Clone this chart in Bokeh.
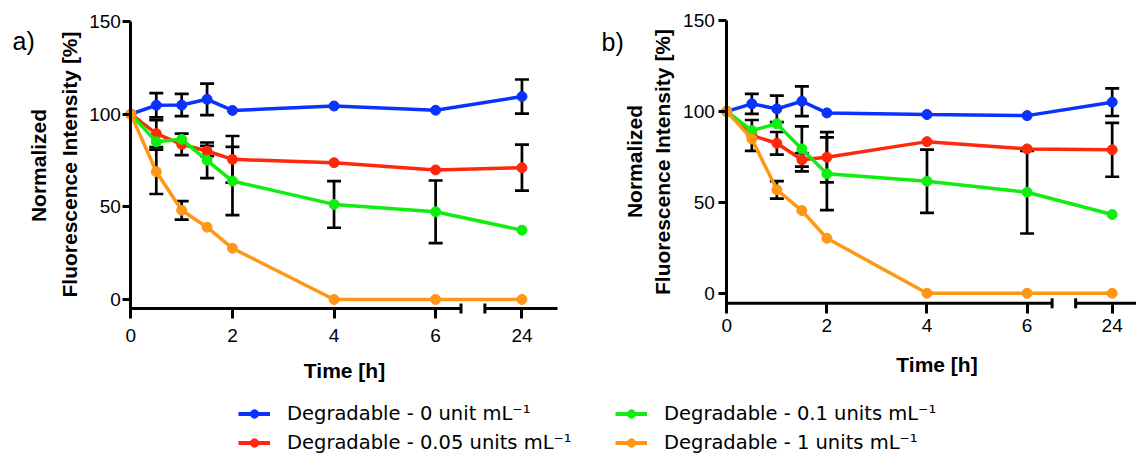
import math
from bokeh.plotting import figure
from bokeh.models import (Range1d, FixedTicker, ColumnDataSource, Whisker, TeeHead,
                          Label, Legend, LegendItem)
from bokeh.layouts import row, column
from bokeh.embed import file_html
from bokeh.resources import INLINE

# ---------------- data ----------------
time_h = [0, 0.5, 1, 1.5, 2, 4, 6, 24]
x_tick_times = [0, 2, 4, 6, 24]
x_tick_labels = ["0", "2", "4", "6", "24"]
y_ticks = [0, 50, 100, 150]
x_title = "Time [h]"
y_title_lines = ["Normalized", "Fluorescence Intensity [%]"]

series_names = [
    "Degradable - 0 unit mL\u207b\u00b9",
    "Degradable - 0.05 units mL\u207b\u00b9",
    "Degradable - 0.1 units mL\u207b\u00b9",
    "Degradable - 1 units mL\u207b\u00b9",
]
series_colors = ["#0A32FF", "#FF280A", "#10EE10", "#FF9614"]

# panel a)
a_blue = [100, 104.8, 104.9, 108.0, 102.0, 104.4, 102.1, 109.5]
a_blue_err = [0, 6.5, 6.0, 8.5, 0, 0, 0, 9.2]
a_red = [100, 89.5, 83.7, 80.1, 75.6, 73.8, 69.9, 71.1]
a_red_err = [0, 7.3, 5.8, 2.8, 12.6, 0, 0, 12.4]
a_green = [100, 85.1, 86.4, 75.1, 63.9, 51.3, 47.3, 37.4]
a_green_err = [0, 0, 0, 9.6, 18.4, 12.6, 16.9, 0]
a_orange = [100, 68.9, 48.1, 39.0, 27.6, 0, 0, 0]
a_orange_err = [0, 12.0, 5.0, 0, 0, 0, 0, 0]

# panel b)
b_blue = [100, 104.2, 101.4, 105.6, 99.2, 98.3, 97.7, 105.1]
b_blue_err = [0, 5.5, 7.3, 8.2, 0, 0, 0, 7.6]
b_red = [100, 86.8, 82.5, 73.4, 74.8, 83.4, 79.4, 78.9]
b_red_err = [0, 8.5, 6.2, 3.7, 13.8, 0, 0, 14.8]
b_green = [100, 89.5, 93.2, 79.4, 65.7, 61.6, 55.6, 43.3]
b_green_err = [0, 0, 0, 12.4, 20.0, 17.4, 22.7, 0]
b_orange = [100, 84.9, 56.9, 45.5, 30.3, 0, 0, 0]
b_orange_err = [0, 0, 4.8, 0, 0, 0, 0, 0]

# broken time axis: 0-6 h linear, then a gap, then 24 h
BREAK_START = 6.5
BREAK_END = 6.97
POS_24 = 7.7


def to_axis(t):
    return t if t <= 6 else POS_24


FONT = "Liberation Sans"
ROW_H = 400


def make_panel(vals, errs, width, axis_px, right_px, x_end, y150_px, ppu, axis_line_px,
               tag, tag_px, xtitle_px, ytitle_px, tick_standoff, ytick_standoff):
    # the frame covers the whole figure; axes are pinned with fixed_location
    unit = (right_px - axis_px) / x_end           # px per hour (0-6 h part)
    x_start = -axis_px / unit
    x_stop = x_start + width / unit

    def px_x(px):
        return x_start + px / unit

    def px_y(py):
        return 150 - (py - y150_px) / ppu

    y_start = px_y(ROW_H)
    y_end = px_y(0)
    axis_y = px_y(axis_line_px)

    p = figure(width=width, height=ROW_H,
               x_range=Range1d(x_start, x_stop), y_range=Range1d(y_start, y_end),
               output_backend="svg", toolbar_location=None,
               min_border_left=0, min_border_right=0, min_border_top=0, min_border_bottom=0)
    p.outline_line_color = None
    p.grid.visible = False

    xa = p.xaxis[0]
    xa.fixed_location = axis_y
    xa.ticker = FixedTicker(ticks=[to_axis(t) for t in x_tick_times])
    xa.major_label_overrides = {float(to_axis(t)): lab for t, lab in zip(x_tick_times, x_tick_labels)}
    xa.axis_line_color = None
    xa.major_tick_line_width = 3
    xa.major_tick_line_color = "black"
    xa.major_tick_in = 0
    xa.major_tick_out = 10
    xa.minor_tick_line_color = None
    xa.major_label_text_font = FONT
    xa.major_label_text_font_size = "19px"
    xa.major_label_text_color = "black"
    xa.major_label_standoff = tick_standoff

    ya = p.yaxis[0]
    ya.fixed_location = 0
    ya.ticker = FixedTicker(ticks=y_ticks)
    ya.bounds = (axis_y - 1.6 / ppu, 150)
    ya.axis_line_width = 3
    ya.axis_line_color = "black"
    ya.major_tick_line_width = 3
    ya.major_tick_line_color = "black"
    ya.major_tick_in = 0
    ya.major_tick_out = 8
    ya.minor_tick_line_color = None
    ya.major_label_text_font = FONT
    ya.major_label_text_font_size = "19px"
    ya.major_label_text_color = "black"
    ya.major_label_standoff = ytick_standoff

    # broken x-axis line
    p.segment(x0=[0, BREAK_END], y0=[axis_y, axis_y], x1=[BREAK_START, x_end], y1=[axis_y, axis_y],
              line_width=3, line_color="black")
    p.scatter(x=[BREAK_START, BREAK_END], y=[axis_y, axis_y], marker="dash", size=10,
              angle=math.pi / 2, line_width=3, line_color="black")

    xs = [to_axis(t) for t in time_h]
    for v, e, c in zip(vals, errs, series_colors):
        bx = [x for x, ee in zip(xs, e) if ee > 0]
        bu = [vv + ee for vv, ee in zip(v, e) if ee > 0]
        bl = [vv - ee for vv, ee in zip(v, e) if ee > 0]
        if bx:
            src = ColumnDataSource(dict(x=bx, upper=bu, lower=bl))
            w = Whisker(source=src, base="x", upper="upper", lower="lower",
                        line_color="black", line_width=2.7, level="underlay",
                        upper_head=TeeHead(size=14, line_width=2.7, line_color="black"),
                        lower_head=TeeHead(size=14, line_width=2.7, line_color="black"))
            p.add_layout(w)
    for v, c in zip(vals, series_colors):
        p.line(x=xs, y=v, line_width=3.5, line_color=c)
        p.scatter(x=xs, y=v, size=10, fill_color=c, line_color=c)

    # texts: panel tag and axis titles
    p.add_layout(Label(x=px_x(tag_px[0]), y=px_y(tag_px[1]), text=tag,
                       text_font=FONT, text_font_size="25px", text_color="black",
                       text_baseline="alphabetic"))
    p.add_layout(Label(x=px_x(xtitle_px[0]), y=px_y(xtitle_px[1]), text=x_title,
                       text_font=FONT, text_font_size="21px", text_font_style="bold",
                       text_color="black", text_align="center", text_baseline="middle"))
    for line_text, (lx, ly) in zip(y_title_lines, ytitle_px):
        p.add_layout(Label(x=px_x(lx), y=px_y(ly), text=line_text, angle=math.pi / 2,
                           text_font=FONT, text_font_size="21px", text_font_style="bold",
                           text_color="black", text_align="center", text_baseline="middle"))
    return p


pa = make_panel([a_blue, a_red, a_green, a_orange],
                [a_blue_err, a_red_err, a_green_err, a_orange_err],
                width=586, axis_px=130.4, right_px=557, x_end=8.4,
                y150_px=21, ppu=1.853, axis_line_px=308,
                tag="a)", tag_px=(12, 40), xtitle_px=(344, 370),
                ytitle_px=[(38, 165), (69, 164)], tick_standoff=10, ytick_standoff=2)
pb = make_panel([b_blue, b_red, b_green, b_orange],
                [b_blue_err, b_red_err, b_green_err, b_orange_err],
                width=550, axis_px=140.3, right_px=550, x_end=8.186,
                y150_px=20, ppu=1.8188, axis_line_px=302.8,
                tag="b)", tag_px=(15, 41), xtitle_px=(350.5, 364),
                ytitle_px=[(48, 161), (76, 161.5)], tick_standoff=6, ytick_standoff=4)

# legend strip
nan = float("nan")
lf = figure(width=1136, height=455 - ROW_H, x_range=Range1d(0, 1), y_range=Range1d(0, 1),
            output_backend="svg", toolbar_location=None,
            x_axis_location=None, y_axis_location=None, min_border=0)
lf.outline_line_color = None
lf.grid.visible = False
items = []
for name, c in zip(series_names, series_colors):
    rl = lf.line(x=[nan], y=[nan], line_width=4, line_color=c)
    rs = lf.scatter(x=[nan], y=[nan], size=9, fill_color=c, line_color=c)
    items.append(LegendItem(label=name, renderers=[rl, rs]))
legend = Legend(items=items, location=(238, 1), orientation="vertical", nrows=2,
                padding=0, margin=0, spacing=6, glyph_width=32, glyph_height=21,
                label_height=21, label_width=322, label_standoff=17,
                label_text_font="DejaVu Sans", label_text_font_size="19.5px",
                label_text_color="black", border_line_color=None,
                background_fill_alpha=0)
lf.add_layout(legend)

layout = column(row(pa, pb), lf)
open("out.html", "w").write(file_html(layout, INLINE))
